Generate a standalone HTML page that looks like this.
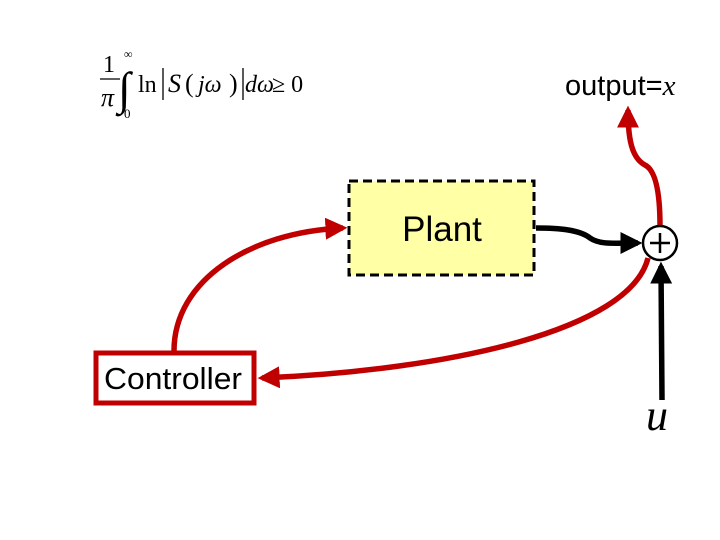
<!DOCTYPE html>
<html><head><meta charset="utf-8"><style>
body{margin:0;background:#fff;}
svg{display:block}
</style></head><body>
<svg width="720" height="540" viewBox="0 0 720 540" xmlns="http://www.w3.org/2000/svg">
<defs>
<marker id="ar" markerWidth="4" markerHeight="4" refX="3.2" refY="2" orient="auto" markerUnits="strokeWidth"><path d="M0,0 L4,2 L0,4 z" fill="#c00000"/></marker>
<marker id="ab" markerWidth="4" markerHeight="4" refX="3.2" refY="2" orient="auto" markerUnits="strokeWidth"><path d="M0,0 L4,2 L0,4 z" fill="#000"/></marker>
</defs>
<g font-family="Liberation Serif, serif" fill="#000">
<text x="103" y="72" font-size="24">1</text>
<line x1="100" y1="79" x2="120" y2="79" stroke="#000" stroke-width="1.2"/>
<text x="101" y="106" font-size="26" font-style="italic">π</text>
<text x="118" y="104" font-size="46">∫</text>
<text x="124" y="58" font-size="12">∞</text>
<text x="124" y="118" font-size="13">0</text>
<text x="138" y="92" font-size="24">ln</text>
<line x1="163" y1="68" x2="163" y2="100" stroke="#000" stroke-width="1.3"/>
<text x="168" y="92" font-size="26" font-style="italic">S</text>
<text x="185" y="92" font-size="26">(</text>
<text x="198" y="92" font-size="24" font-style="italic">jω</text>
<text x="229" y="92" font-size="26">)</text>
<line x1="243" y1="68" x2="243" y2="100" stroke="#000" stroke-width="1.3"/>
<text x="245" y="92" font-size="24" font-style="italic">dω</text>
<text x="272" y="92" font-size="24">≥ 0</text>
</g>
<text x="565" y="95" font-family="Liberation Sans, sans-serif" font-size="29">output=<tspan font-family="Liberation Serif, serif" font-style="italic">x</tspan></text>
<rect x="349" y="181" width="185" height="94" fill="#ffffa6" stroke="#000" stroke-width="3" stroke-dasharray="9,5"/>
<text x="442" y="241" text-anchor="middle" font-family="Liberation Sans, sans-serif" font-size="35">Plant</text>
<rect x="96" y="353" width="158" height="50" fill="#fff" stroke="#c00000" stroke-width="5"/>
<text x="173" y="389" text-anchor="middle" font-family="Liberation Sans, sans-serif" font-size="31" textLength="138" lengthAdjust="spacingAndGlyphs">Controller</text>
<path d="M174,351 C174,280 250,232 343,228" fill="none" stroke="#c00000" stroke-width="5.5" marker-end="url(#ar)"/>
<path d="M648,258 C630,330 450,370 262,378" fill="none" stroke="#c00000" stroke-width="5.5" marker-end="url(#ar)"/>
<path d="M660,226 C660,190 655,170 645,165 C632,158 628,140 628,110" fill="none" stroke="#c00000" stroke-width="5.5" marker-end="url(#ar)"/>
<path d="M536,228 C560,228 580,230 590,238 C600,245 615,243 638,243" fill="none" stroke="#000" stroke-width="5.5" marker-end="url(#ab)"/>
<path d="M662,400 L661,266" fill="none" stroke="#000" stroke-width="5.5" marker-end="url(#ab)"/>
<circle cx="660" cy="243" r="17" fill="#fff" stroke="#000" stroke-width="2.5"/>
<line x1="650" y1="243" x2="670" y2="243" stroke="#000" stroke-width="2.5"/>
<line x1="660" y1="233" x2="660" y2="253" stroke="#000" stroke-width="2.5"/>
<text x="646" y="430" font-family="Liberation Serif, serif" font-style="italic" font-size="44">u</text>
</svg>
</body></html>
